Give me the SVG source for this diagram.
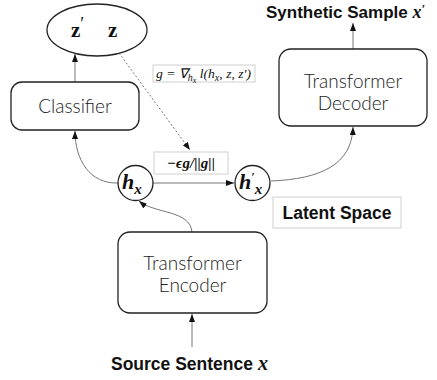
<svg xmlns="http://www.w3.org/2000/svg" width="437" height="380" viewBox="0 0 437 380">
<defs>
<style>
.box{fill:#fff;stroke:#222;stroke-width:1.3}
.lbox{fill:#fff;stroke:#cfcfcf;stroke-width:1}
.lbl{font-family:Lato,"Liberation Sans",sans-serif;font-weight:300;font-size:19px;fill:#222;text-anchor:middle}
.bold{font-family:"Liberation Sans",Arial,sans-serif;font-weight:bold;fill:#111}
.math{font-family:"Liberation Serif","Times New Roman",serif;font-style:italic;font-weight:bold;fill:#111}
.mathn{font-family:"Liberation Serif","Times New Roman",serif;font-style:italic;fill:#111}
.vec{font-family:"Liberation Serif","Times New Roman",serif;font-weight:bold;fill:#111;font-size:21px}
.con{fill:none;stroke:#777;stroke-width:1}
.dot{fill:none;stroke:#777;stroke-width:1;stroke-dasharray:2,2}
</style>
<marker id="ah" viewBox="0 0 8 6" markerWidth="8" markerHeight="6" refX="8" refY="3" orient="auto" markerUnits="userSpaceOnUse">
<path d="M0,0 L8,3 L0,6 z" fill="#111"/>
</marker>
</defs>
<rect width="437" height="380" fill="#fff"/>

<g id="connectors">
<line class="con" x1="75" y1="82" x2="75" y2="54" marker-end="url(#ah)"/>
<line class="con" x1="353" y1="49" x2="353" y2="23" marker-end="url(#ah)"/>
<line class="con" x1="192" y1="347" x2="192" y2="314" marker-end="url(#ah)"/>
<line class="dot" x1="119" y1="53" x2="190" y2="150" marker-end="url(#ah)"/>
<line class="con" x1="153" y1="183" x2="234" y2="183" marker-end="url(#ah)"/>
<path class="con" d="M118,183 C90,184 75,160 75,131" marker-end="url(#ah)"/>
<path class="con" d="M271,181 C320,179 352,165 353,127" marker-end="url(#ah)"/>
<path class="con" d="M192,232 C190,210 155,214 139,201" marker-end="url(#ah)"/>
</g>

<g id="latent-vars">
<ellipse cx="97" cy="30" rx="50" ry="26" fill="#fff" stroke="#222" stroke-width="1.3"/>
<text class="vec" x="71" y="37">z<tspan font-size="18" font-weight="normal" dy="-7">′</tspan></text>
<text class="vec" x="108" y="37">z</text>
</g>

<g id="classifier">
<rect class="box" x="11" y="82" width="128" height="48" rx="11"/>
<text class="lbl" x="75" y="113">Classifier</text>
</g>

<g id="decoder">
<rect class="box" x="279" y="49" width="148" height="77" rx="12"/>
<text class="lbl" x="353" y="88">Transformer</text>
<text class="lbl" x="353" y="110">Decoder</text>
</g>

<g id="encoder">
<rect class="box" x="118" y="232" width="149" height="81" rx="12"/>
<text class="lbl" x="192.5" y="270">Transformer</text>
<text class="lbl" x="192.5" y="292">Encoder</text>
</g>

<g id="hx">
<circle cx="135.5" cy="183" r="17.5" fill="#fff" stroke="#222" stroke-width="1.3"/>
<text class="math" x="122" y="189" font-size="22">h<tspan font-size="15" dy="5">x</tspan></text>
</g>

<g id="hx-prime">
<circle cx="252.5" cy="183" r="17.5" fill="#fff" stroke="#222" stroke-width="1.3"/>
<text class="math" x="239" y="189" font-size="22">h<tspan font-size="12" dy="-8">′</tspan><tspan font-size="15" dy="13">x</tspan></text>
</g>

<g id="grad-label">
<rect class="lbox" x="153" y="65" width="102" height="17"/>
<text class="mathn" x="156" y="78" font-size="13.5" textLength="95" lengthAdjust="spacingAndGlyphs">g = ∇<tspan font-size="10" dy="3">h</tspan><tspan font-size="8" dy="2">x</tspan><tspan dy="-5"> l(h</tspan><tspan font-size="10" dy="3">x</tspan><tspan dy="-3">, z, z′)</tspan></text>
</g>

<g id="step-label">
<rect class="lbox" x="154" y="152" width="74" height="22"/>
<text class="math" x="191" y="168" font-size="15" text-anchor="middle">−ϵg/||g||</text>
</g>

<g id="latent-space">
<rect class="lbox" x="273" y="197" width="128" height="31"/>
<text class="bold" x="337" y="219" font-size="17.5" text-anchor="middle">Latent Space</text>
</g>

<g id="synthetic">
<text class="bold" x="266" y="18" font-size="17">Synthetic Sample <tspan class="math" font-size="18">x</tspan><tspan class="math" font-size="13" dy="-5">′</tspan></text>
</g>

<g id="source">
<text class="bold" x="111" y="370" font-size="17.5">Source Sentence <tspan class="math" font-size="20">x</tspan></text>
</g>
</svg>
